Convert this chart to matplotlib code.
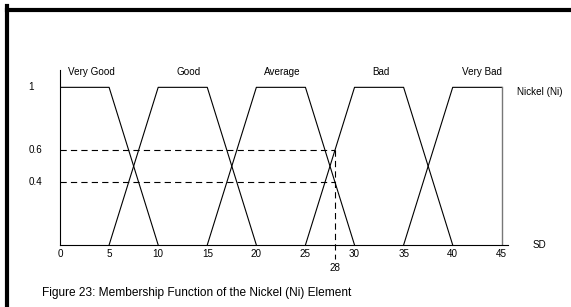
import matplotlib
matplotlib.use("Agg")
import matplotlib.pyplot as plt
from matplotlib.lines import Line2D

plt.rcParams['font.family'] = ['Liberation Sans', 'DejaVu Sans']
plt.rcParams['lines.scale_dashes'] = False

# membership functions (x breakpoints, membership values)
sets = ["Very Good", "Good", "Average", "Bad", "Very Bad"]
set_x = [[0, 5, 10], [5, 10, 15, 20], [15, 20, 25, 30], [25, 30, 35, 40], [35, 40, 45, 45]]
set_y = [[1, 1, 0], [0, 1, 1, 0], [0, 1, 1, 0], [0, 1, 1, 0], [0, 1, 1, 0]]
label_x = [3.2, 13.1, 22.6, 32.7, 43.0]
xticks = [0, 5, 10, 15, 20, 25, 30, 35, 40, 45]
yticks = [1, 0.6, 0.4]
sample_x = 28
sample_y = [0.6, 0.4]

fs = 7.1

fig = plt.figure(figsize=(5.71, 3.07), dpi=100)
ax = fig.add_axes([0.1051, 0.202, 0.784, 0.570])

for i, name in enumerate(sets):
    xs, ys = set_x[i], set_y[i]
    ax.plot(xs[:3] if i == 4 else xs, ys[:3] if i == 4 else ys, color='black', lw=0.8)
    ax.text(label_x[i], 1.10, name, ha='center', va='center', fontsize=fs)
# right edge of "Very Bad"
ax.plot([45, 45], [1, 0], color='#777777', lw=1.0)

for v in sample_y:
    ax.plot([0, sample_x], [v, v], color='black', lw=0.8, dashes=(4.5, 3))
ax.plot([sample_x, sample_x], [0.6, -0.09], color='black', lw=0.8, dashes=(4.5, 3),
        clip_on=False)

ax.set_xlim(0, 45.6)
ax.set_ylim(0, 1.11)
for s in ['top', 'right']:
    ax.spines[s].set_visible(False)
for s in ['left', 'bottom']:
    ax.spines[s].set_linewidth(0.8)
ax.set_xticks([])
ax.set_yticks([])

for t in xticks:
    ax.text(t, -0.057, str(t), ha='center', va='center', fontsize=fs)
ax.text(sample_x, -0.146, str(sample_x), ha='center', va='center', fontsize=fs)
for t in yticks:
    ax.text(-3.2, t, "%g" % t, ha='left', va='center', fontsize=fs)

ax.text(48.1, 0.0, "SD", ha='left', va='center', fontsize=fs, clip_on=False)
ax.text(46.6, 0.97, "Nickel (Ni)", ha='left', va='center', fontsize=fs, clip_on=False)

fig.text(42 / 571, 1 - 293 / 307, "Figure 23: Membership Function of the Nickel (Ni) Element",
         ha='left', va='center', fontsize=8.6)

# page frame (left and top edges)
fig.add_artist(Line2D([6.5 / 571, 6.5 / 571], [0, 1 - 6 / 307], color='black', lw=3,
                      transform=fig.transFigure, solid_capstyle='projecting'))
fig.add_artist(Line2D([6.5 / 571, 1], [1 - 10 / 307, 1 - 10 / 307], color='black', lw=3,
                      transform=fig.transFigure))

fig.savefig("out.png", dpi=100)
